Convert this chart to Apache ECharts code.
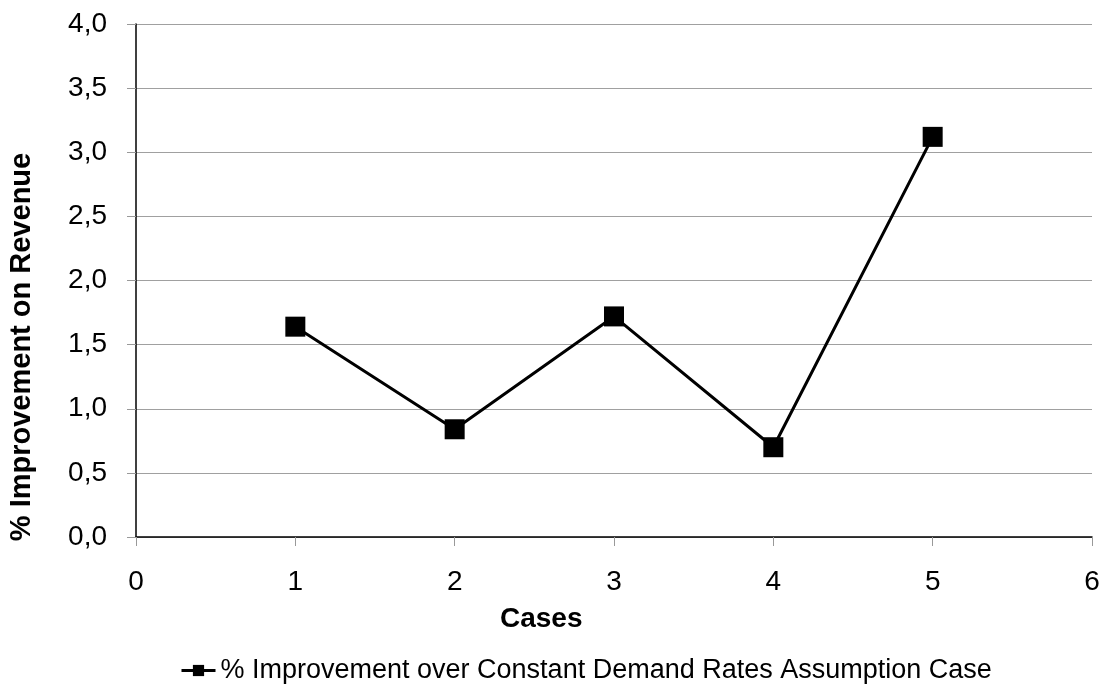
<!DOCTYPE html>
<html>
<head>
<meta charset="utf-8">
<script src="https://cdn.jsdelivr.net/npm/echarts@6/dist/echarts.min.js"></script>
<style>
  html, body { margin: 0; padding: 0; background: #fff; }
  #chart { width: 1109px; height: 688px; }
</style>
</head>
<body>
<div id="chart"></div>
<script>
// Cases and revenue improvement (%) per case
const cases = [1, 2, 3, 4, 5];
const improvement = [1.64, 0.84, 1.72, 0.70, 3.12];
const seriesName = '% Improvement over Constant Demand Rates Assumption Case';
const xTitle = 'Cases';
const yTitle = '% Improvement on Revenue';

const FONT = '"Liberation Sans", Arial, sans-serif';
const fmtComma = v => v.toFixed(1).replace('.', ',');

const chart = echarts.init(document.getElementById('chart'));
chart.setOption({
  animation: false,
  backgroundColor: '#ffffff',
  grid: { left: 136, right: 17, top: 24, bottom: 151, containLabel: false },
  xAxis: {
    type: 'value',
    min: 0, max: 6, interval: 1,
    axisLine: { show: true, onZero: false, lineStyle: { color: '#000', width: 1.5 } },
    axisTick: { show: true, length: 9, lineStyle: { color: '#999', width: 1 } },
    axisLabel: { color: '#000', fontSize: 28, fontFamily: FONT, margin: 31 },
    splitLine: { show: false }
  },
  yAxis: {
    type: 'value',
    min: 0, max: 4, interval: 0.5,
    axisLine: { show: true, lineStyle: { color: '#000', width: 1.5 } },
    axisTick: { show: true, length: 9, lineStyle: { color: '#999', width: 1 } },
    axisLabel: { color: '#000', fontSize: 28, fontFamily: FONT, margin: 29, formatter: fmtComma },
    splitLine: { show: true, lineStyle: { color: '#a0a0a0', width: 1 } }
  },
  legend: {
    top: 652,
    left: 175,
    itemWidth: 34,
    itemHeight: 14,
    itemGap: 10,
    lineStyle: { width: 3 },
    textStyle: { color: '#000', fontSize: 27, fontFamily: FONT },
    data: [seriesName]
  },
  graphic: [
    {
      type: 'text',
      left: 500, top: 605,
      style: { text: xTitle, fill: '#000', font: 'bold 28px ' + FONT }
    },
    {
      type: 'text',
      x: 22, y: 347,
      rotation: Math.PI / 2,
      style: {
        text: yTitle, fill: '#000', font: 'bold 29px ' + FONT,
        textAlign: 'center', textVerticalAlign: 'middle'
      }
    }
  ],
  series: [{
    name: seriesName,
    type: 'line',
    data: cases.map((c, i) => [c, improvement[i]]),
    symbol: 'rect',
    symbolSize: 20,
    itemStyle: { color: '#000' },
    lineStyle: { color: '#000', width: 3 }
  }]
});
</script>
</body>
</html>
